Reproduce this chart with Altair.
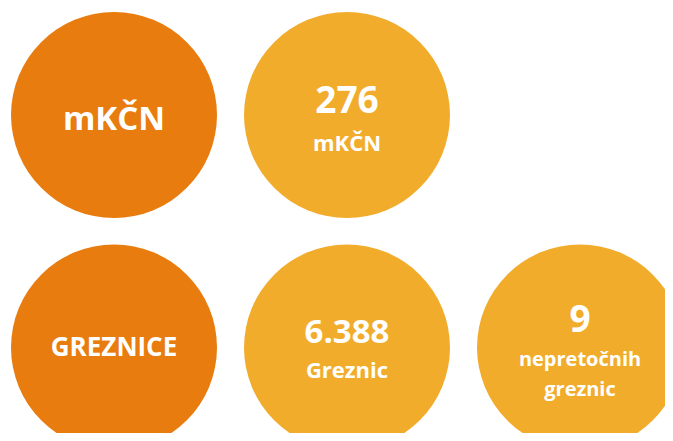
import altair as alt
import pandas as pd

# ---- data ----
header_labels = ["mKČN", "GREZNICE"]
header_cols = [0, 0]
header_rows = [0, 1]

stat_values = ["276", "6.388", "9"]
stat_units = [["mKČN"], ["Greznic"], ["nepretočnih", "greznic"]]
stat_cols = [1, 1, 2]
stat_rows = [0, 1, 1]

# ---- style / layout ----
DARK = "#E87C0E"
LIGHT = "#F2AC2C"
FONT = "Open Sans"
W, H = 657, 425
STEP_X, STEP_Y = 233.0, 232.5
X0, Y0 = 106.0, 107.0
DIAM = 206

xscale = alt.Scale(domain=[-X0 / STEP_X, (W - X0) / STEP_X], zero=False, nice=False)
yscale = alt.Scale(domain=[-Y0 / STEP_Y, (H - Y0) / STEP_Y], zero=False, nice=False, reverse=True)
X = alt.X("col:Q", scale=xscale, axis=None)
Y = alt.Y("row:Q", scale=yscale, axis=None)

circles = pd.DataFrame({
    "col": header_cols + stat_cols,
    "row": header_rows + stat_rows,
    "kind": ["header"] * len(header_cols) + ["stat"] * len(stat_cols),
})

circle_layer = alt.Chart(circles).mark_point(
    shape="circle", filled=True, opacity=1, size=DIAM * DIAM, strokeWidth=0
).encode(
    x=X, y=Y,
    color=alt.Color("kind:N", scale=alt.Scale(domain=["header", "stat"], range=[DARK, LIGHT]), legend=None),
)

def text_layer(df, field, size, dy, line_height=None):
    kw = dict(font=FONT, fontWeight="bold", color="white", align="center",
              baseline="alphabetic", fontSize=size, dy=dy)
    if line_height:
        kw["lineHeight"] = line_height
    return alt.Chart(df).mark_text(**kw).encode(x=X, y=Y, text=alt.Text(f"{field}:N"))

layers = [circle_layer]

header_sizes = [33, 26]
header_dy = [15, 8.5]
for i, lab in enumerate(header_labels):
    df = pd.DataFrame({"col": [header_cols[i]], "row": [header_rows[i]], "label": [lab]})
    layers.append(text_layer(df, "label", header_sizes[i], header_dy[i]))

value_sizes = [37, 33, 37]
value_dy = [-2.3, -4.8, -15.8]
unit_sizes = [22, 22, 20]
unit_dy = [35.7, 30.8, 18.5]
for i, val in enumerate(stat_values):
    dfv = pd.DataFrame({"col": [stat_cols[i]], "row": [stat_rows[i]], "value": [val]})
    layers.append(text_layer(dfv, "value", value_sizes[i], value_dy[i]))
    dfu = pd.DataFrame({"col": [stat_cols[i]], "row": [stat_rows[i]], "unit": [stat_units[i]]})
    layers.append(text_layer(dfu, "unit", unit_sizes[i], unit_dy[i], line_height=30))

chart = alt.layer(*layers).properties(
    width=W, height=H, padding=0, autosize=alt.AutoSizeParams(type="none")
).configure_view(stroke=None)

chart.save("out.html", embed_options={"renderer": "svg", "actions": False})
